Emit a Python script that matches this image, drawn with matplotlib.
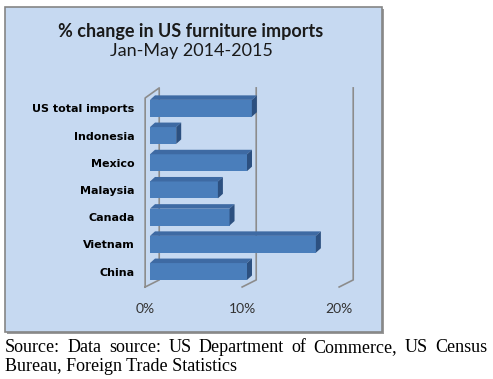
import matplotlib.pyplot as plt
from matplotlib.patches import Rectangle, Polygon

# data
countries = ['China', 'Vietnam', 'Canada', 'Malaysia', 'Mexico', 'Indonesia', 'US total imports']
pct_change = [10.0, 17.1, 8.2, 7.0, 10.0, 2.7, 10.5]
xticks = [0, 10, 20]
xtick_labels = ['0%', '10%', '20%']

W, H = 493, 379
fig = plt.figure(figsize=(W / 100, H / 100), dpi=100)
fig.patch.set_facecolor('white')

def px(x, y, w, h):
    # pixel box (from top-left) -> figure fraction
    return [x / W, 1 - (y + h) / H, w / W, h / H]

# chart area box with a small shadow
b = px(5, 7, 377, 325)
fig.add_artist(Rectangle((b[0] + 2 / W, b[1] - 2 / H), b[2], b[3], transform=fig.transFigure,
                         facecolor='#9a9a9a', edgecolor='none', zorder=0))
fig.add_artist(Rectangle((b[0], b[1]), b[2], b[3], transform=fig.transFigure,
                         facecolor='#c6d9f1', edgecolor='#858585', lw=1.2, zorder=0.5))

fig.text(191 / W, 1 - 32 / H, '% change in US furniture imports', ha='center', va='center',
         fontsize=13, fontweight='bold', family='Lato', color='#1a1a1a')
fig.text(191 / W, 1 - 51 / H, 'Jan-May 2014-2015', ha='center', va='center',
         fontsize=13, family='Lato', color='#1a1a1a')

ax = fig.add_axes(px(140, 85, 220, 207))
ax.set_zorder(2)
ax.patch.set_alpha(0)
for s in ax.spines.values():
    s.set_visible(False)

sx = 9.7      # px per 1 %
sy = 27.2     # px per category
ax.set_xlim((140 - 150) / sx, (360 - 150) / sx)
ax.set_ylim((271.5 - 292) / sy, (271.5 - 85) / sy)

# 3d-ish walls / gridlines
fx, bx = -0.5, 0.95
y_fb, y_bb, y_ft, y_bt = -0.57, -0.31, 6.38, 6.75
gc = '#8c8c8c'
ax.plot([xticks[0] + fx, xticks[0] + fx, xticks[0] + bx, xticks[0] + bx, xticks[0] + fx],
        [y_fb, y_ft, y_bt, y_bb, y_fb], color=gc, lw=1.2, zorder=1)
for t in xticks[1:]:
    ax.plot([t + fx, t + bx, t + bx], [y_fb, y_bb, y_bt], color=gc, lw=1.2, zorder=1)

# bars
h = 0.62
dx, dy = 5 / sx, 4.5 / sy
for i, v in enumerate(pct_change):
    y0, y1 = i - h / 2, i + h / 2
    ax.barh(i, v, height=h, color='#4a7ebb', edgecolor='none', zorder=3)
    ax.add_patch(Polygon([(0, y1), (v, y1), (v + dx, y1 + dy), (dx, y1 + dy)],
                         closed=True, facecolor='#3e6aa3', edgecolor='none', zorder=3))
    ax.add_patch(Polygon([(v, y0), (v + dx, y0 + dy), (v + dx, y1 + dy), (v, y1)],
                         closed=True, facecolor='#2c5080', edgecolor='none', zorder=3))

ax.set_yticks(range(len(countries)))
ax.set_yticklabels(countries, fontsize=8, fontweight='bold', family='DejaVu Sans')
ax.set_xticks([t + fx for t in xticks])
ax.set_xticklabels(xtick_labels, fontsize=10, family='Lato', color='#333333')
ax.tick_params(length=0)
ax.tick_params(axis='y', pad=4)
ax.tick_params(axis='x', pad=8)

# source note, first line justified
line1 = 'Source: Data source: US Department of Commerce, US Census'
line2 = 'Bureau, Foreign Trade Statistics'
words = line1.split()
texts = [fig.text(0, 1 - 352 / H, w, fontsize=13, family='Liberation Serif', va='baseline')
         for w in words]
fig.text(5 / W, 1 - 371 / H, line2, fontsize=13, family='Liberation Serif', va='baseline')
fig.canvas.draw()
r = fig.canvas.get_renderer()
widths = [t.get_window_extent(r).width for t in texts]
gap = (482 - sum(widths)) / (len(words) - 1)
x = 5
for t, w in zip(texts, widths):
    t.set_x(x / W)
    x += w + gap

fig.savefig('out.png', dpi=100)
